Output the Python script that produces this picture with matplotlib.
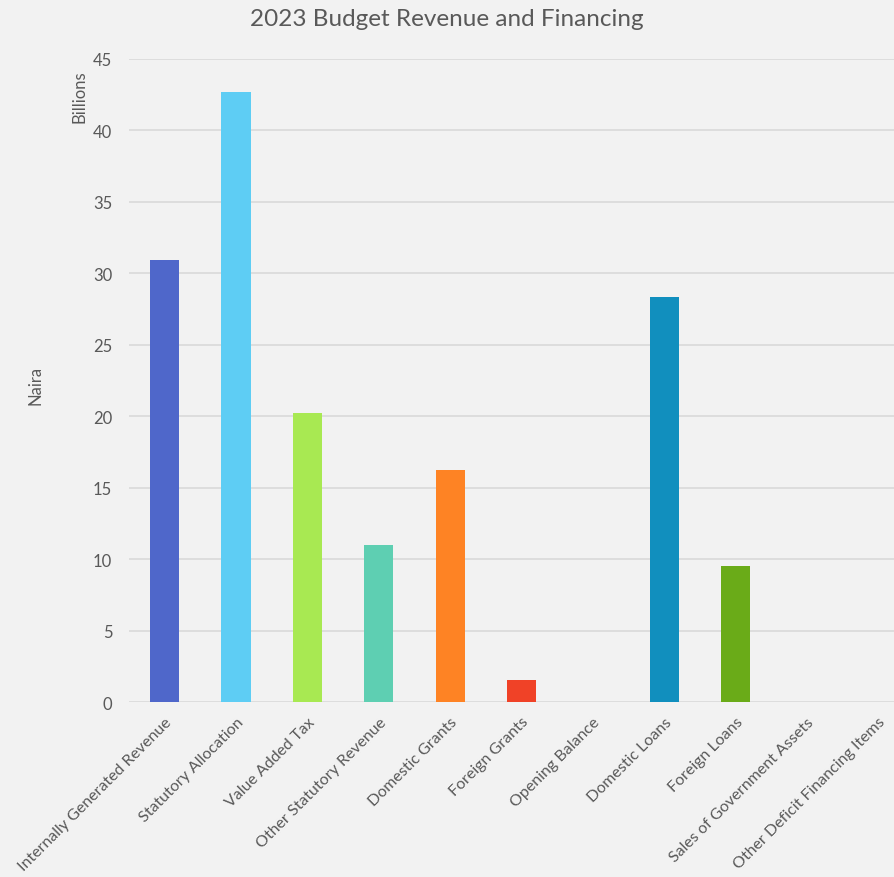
import matplotlib
matplotlib.use("Agg")
import matplotlib.pyplot as plt

categories = [
    "Internally Generated Revenue", "Statutory Allocation", "Value Added Tax",
    "Other Statutory Revenue", "Domestic Grants", "Foreign Grants",
    "Opening Balance", "Domestic Loans", "Foreign Loans",
    "Sales of Government Assets", "Other Deficit Financing Items",
]
values = [30.93, 42.69, 20.22, 10.99, 16.24, 1.54, 0, 28.34, 9.52, 0, 0]
colors = ["#4f67ca", "#5ecdf4", "#a8e952", "#5ecfb2", "#fe8324", "#f04227",
          "#999999", "#118fbe", "#6aab18", "#999999", "#999999"]
yticks = [0, 5, 10, 15, 20, 25, 30, 35, 40, 45]

plt.rcParams['font.family'] = ['Lato', 'DejaVu Sans']
txt = "#595959"
bg = "#f2f2f2"

fig = plt.figure(figsize=(8.94, 8.78), dpi=100, facecolor=bg)
# plot area runs a little past the right edge of the figure, as in the source
ax = fig.add_axes([129 / 894, 1 - 703 / 878, 785 / 894, (703 - 60) / 878])
ax.set_facecolor(bg)

x = range(len(categories))
ax.bar(x, values, width=0.41, color=colors, zorder=3)

ax.set_xlim(-0.5, len(categories) - 0.5)
ax.set_ylim(0, 45)
ax.set_yticks(yticks)
ax.set_yticklabels([str(t) for t in yticks], color=txt, fontsize=12)
ax.set_xticks(list(x))
ax.set_xticklabels(categories, rotation=45, ha="right", rotation_mode="anchor",
                   color=txt, fontsize=11.5)
ax.tick_params(axis="both", length=0, pad=9)
ax.tick_params(axis="y", pad=12)
ax.grid(axis="y", color="#d9d9d9", linewidth=1.2, zorder=0)
for s in ax.spines.values():
    s.set_visible(False)

fig.text(0.5, 1 - 20 / 878, "2023 Budget Revenue and Financing", ha="center",
         va="center", fontsize=17.5, color=txt)
fig.text(36 / 894, 1 - 385 / 878, "Naira", rotation=90, ha="center",
         va="center", fontsize=12, color=txt)
fig.text(80 / 894, 1 - 97 / 878, "Billions", rotation=90, ha="center",
         va="center", fontsize=12, color=txt)

fig.savefig("out.png", dpi=100, facecolor=bg)
